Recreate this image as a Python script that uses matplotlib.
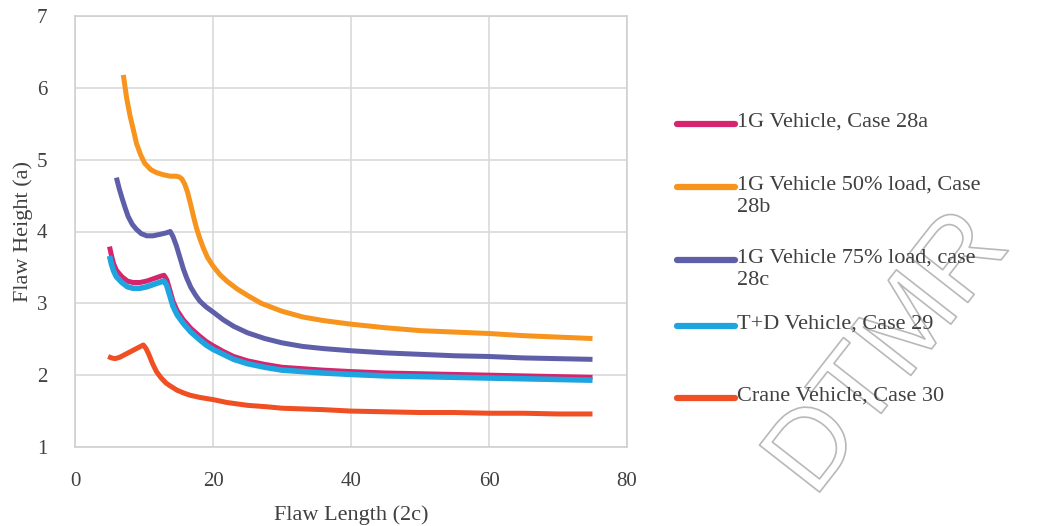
import matplotlib
matplotlib.use('Agg')
import matplotlib.pyplot as plt
import matplotlib.patheffects as pe

# series
x_28a = [5.0, 5.3, 5.6, 6.0, 6.8, 7.6, 8.4, 9.4, 10.4, 11.6, 12.5, 12.9, 13.3, 13.7, 14.2, 14.8, 15.7, 16.8,
         18.1, 19.0, 20.0, 21.5, 23.0, 25.0, 27.5, 30.0, 33.0, 36.0, 40.0, 45.0, 50.0, 55.0, 60.0, 65.0, 70.0, 75.0]
y_28a = [3.79, 3.66, 3.55, 3.46, 3.37, 3.31, 3.29, 3.29, 3.31, 3.35, 3.38, 3.39, 3.33, 3.20, 3.03, 2.90, 2.77, 2.65,
         2.54, 2.47, 2.41, 2.33, 2.26, 2.20, 2.15, 2.11, 2.09, 2.07, 2.05, 2.03, 2.02, 2.01, 2.00, 1.99, 1.98, 1.97]

x_28b = [7.0, 7.5, 8.0, 8.5, 8.9, 9.5, 10.1, 11.0, 11.8, 12.8, 13.8, 14.6, 15.1, 15.5, 15.9, 16.3, 16.7, 17.2,
         17.6, 18.1, 18.6, 19.2, 20.0, 21.0, 22.0, 23.5, 25.0, 27.0, 30.0, 33.0, 36.0, 40.0, 45.0, 50.0, 55.0,
         60.0, 65.0, 70.0, 75.0]
y_28b = [6.18, 5.85, 5.60, 5.40, 5.23, 5.07, 4.95, 4.86, 4.82, 4.79, 4.77, 4.77, 4.76, 4.73, 4.66, 4.55, 4.40, 4.20,
         4.05, 3.90, 3.77, 3.64, 3.52, 3.40, 3.31, 3.20, 3.11, 3.00, 2.89, 2.81, 2.76, 2.71, 2.66, 2.62, 2.60,
         2.58, 2.55, 2.53, 2.51]

x_28c = [6.0, 6.4, 6.8, 7.3, 7.7, 8.3, 8.9, 9.6, 10.4, 11.3, 12.3, 13.2, 13.8, 14.2, 14.7, 15.2, 15.7, 16.2,
         16.8, 17.5, 18.1, 19.0, 20.0, 21.5, 23.0, 25.0, 27.5, 30.0, 33.0, 36.0, 40.0, 45.0, 50.0, 55.0, 60.0,
         65.0, 70.0, 75.0]
y_28c = [4.75, 4.60, 4.47, 4.32, 4.21, 4.10, 4.03, 3.97, 3.94, 3.94, 3.96, 3.98, 4.00, 3.93, 3.80, 3.64, 3.48, 3.35,
         3.22, 3.11, 3.03, 2.95, 2.88, 2.77, 2.68, 2.59, 2.51, 2.45, 2.40, 2.37, 2.34, 2.31, 2.29, 2.27, 2.26,
         2.24, 2.23, 2.22]

x_29 = [5.0, 5.3, 5.6, 6.0, 6.8, 7.6, 8.4, 9.4, 10.4, 11.6, 12.5, 12.9, 13.3, 13.7, 14.2, 14.8, 15.7, 16.8,
        18.1, 19.0, 20.0, 21.5, 23.0, 25.0, 27.5, 30.0, 33.0, 36.0, 40.0, 45.0, 50.0, 55.0, 60.0, 65.0, 70.0, 75.0]
y_29 = [3.66, 3.54, 3.45, 3.37, 3.29, 3.23, 3.21, 3.21, 3.23, 3.27, 3.30, 3.31, 3.25, 3.12, 2.96, 2.84, 2.72, 2.60,
        2.49, 2.42, 2.36, 2.29, 2.22, 2.16, 2.11, 2.07, 2.05, 2.03, 2.01, 1.99, 1.98, 1.97, 1.96, 1.95, 1.94, 1.93]

x_30 = [4.8, 5.3, 5.8, 6.5, 7.5, 8.5, 9.3, 9.9, 10.3, 10.7, 11.2, 11.8, 12.5, 13.2, 13.8, 14.8, 15.8, 16.7,
        18.1, 20.0, 22.0, 25.0, 27.8, 30.0, 33.0, 36.0, 40.0, 45.0, 50.0, 55.0, 60.0, 65.0, 70.0, 75.0]
y_30 = [2.26, 2.24, 2.23, 2.25, 2.30, 2.35, 2.39, 2.42, 2.37, 2.29, 2.17, 2.05, 1.96, 1.89, 1.85, 1.79, 1.75, 1.72,
        1.69, 1.66, 1.62, 1.58, 1.56, 1.54, 1.53, 1.52, 1.50, 1.49, 1.48, 1.48, 1.47, 1.47, 1.46, 1.46]

labels = ['1G Vehicle, Case 28a',
          '1G Vehicle 50% load, Case\n28b',
          '1G Vehicle 75% load, case\n28c',
          'T+D Vehicle, Case 29',
          'Crane Vehicle, Case 30']
colors = ['#d6246e', '#f7941d', '#5e5fa8', '#1ea5df', '#f04e23']

plt.rcParams['font.family'] = ['Liberation Serif', 'DejaVu Serif']

fig = plt.figure(figsize=(10.43, 5.26), dpi=100)
ax = fig.add_axes([75 / 1043, 1 - 447 / 526, (627 - 75) / 1043, (447 - 16) / 526])

series = [(x_28a, y_28a), (x_28b, y_28b), (x_28c, y_28c), (x_29, y_29), (x_30, y_30)]
widths = [3.6, 3.6, 3.6, 4.0, 3.6]
for (xs, ys), c, lw, lab in zip(series, colors, widths, labels):
    ax.plot(xs, ys, color=c, lw=lw, solid_capstyle='butt', solid_joinstyle='round', label=lab)

ax.set_xlim(0, 80)
ax.set_ylim(1, 7)
ax.set_xticks([0, 20, 40, 60, 80])
ax.set_yticks([1, 2, 3, 4, 5, 6, 7])
ax.grid(True, color='#d9d9d9', lw=1.2)
ax.set_axisbelow(True)
for s in ax.spines.values():
    s.set_color('#d0d0d0')
    s.set_linewidth(1.2)
ax.tick_params(axis='x', length=0, labelsize=15, colors='#404040', pad=18)
ax.tick_params(axis='y', length=0, labelsize=15, colors='#404040', pad=20)
ax.set_xlabel('Flaw Length (2c)', fontsize=16, color='#404040', labelpad=10)
ax.set_ylabel('Flaw Height (a)', fontsize=16, color='#404040', labelpad=3)

# legend drawn by hand so the handle sits on the first text line
ys_leg = [124, 187, 260, 326, 398]
for lab, c, yp in zip(labels, colors, ys_leg):
    yf = 1 - yp / 526
    fig.add_artist(plt.Line2D([677 / 1043, 735 / 1043], [yf, yf], color=c, lw=4.5,
                              solid_capstyle='round', zorder=5))
    fig.text(737 / 1043, yf + 11 / 526, lab, fontsize=16, color='#404040', va='top',
             linespacing=1.2, zorder=6)

# watermark
fig.text(890 / 1043, 1 - 355 / 526, 'DTMR', fontsize=80, rotation=52,
         family='Liberation Sans', color='white', ha='center', va='center', zorder=1,
         path_effects=[pe.Stroke(linewidth=1.2, foreground='#b8b8b8')])

fig.savefig('out.png', dpi=100)
